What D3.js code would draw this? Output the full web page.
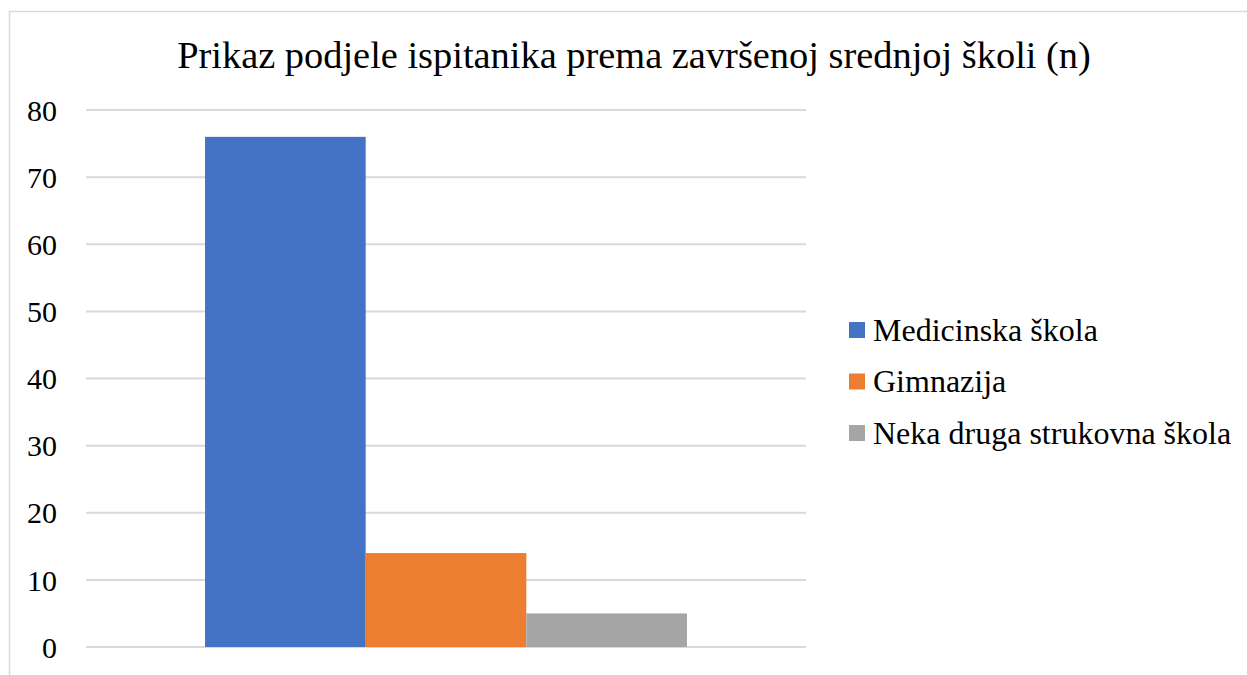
<!DOCTYPE html>
<html>
<head>
<meta charset="utf-8">
<script src="https://cdn.jsdelivr.net/npm/d3@7"></script>
</head>
<body style="margin:0">
<svg id="fig" width="1247" height="675"></svg>
<script>
var categories = [""];
var seriesNames = ["Medicinska škola", "Gimnazija", "Neka druga strukovna škola"];
var seriesValues = [76, 14, 5];
var seriesColors = ["#4472C4", "#ED7D31", "#A5A5A5"];
var yTicks = [0, 10, 20, 30, 40, 50, 60, 70, 80];
var title = "Prikaz podjele ispitanika prema završenoj srednjoj školi (n)";

var serif = "'Liberation Serif'";

var svg = d3.select("#fig");
var margin = {top: 110, left: 86, right: 441, bottom: 28},
    width = 1247 - margin.left - margin.right,
    height = 675 - margin.top - margin.bottom;

// chart frame (runs off the right and bottom of the picture)
svg.append("rect")
    .attr("x", 9.5).attr("y", 11.5)
    .attr("width", 1260).attr("height", 700)
    .attr("fill", "none")
    .attr("stroke", "#d9d9d9")
    .attr("stroke-width", 1.5);

svg.append("text")
    .attr("x", 634).attr("y", 68)
    .attr("text-anchor", "middle")
    .style("font-family", serif)
    .style("font-size", "38.4px")
    .text(title);

var g = svg.append("g")
    .attr("transform", "translate(" + margin.left + "," + margin.top + ")");

var y = d3.scaleLinear().domain([0, 80]).range([height, 0]);
var x0 = d3.scaleBand().domain(categories).range([0, width]).paddingOuter(0.247).paddingInner(0);
var x1 = d3.scaleBand().domain(seriesNames).range([0, x0.bandwidth()]).padding(0);

// gridlines
g.selectAll(".grid")
  .data(yTicks)
  .enter().append("line")
    .attr("class", "grid")
    .attr("x1", 0).attr("x2", width)
    .attr("y1", function(d) { return y(d); })
    .attr("y2", function(d) { return y(d); })
    .attr("stroke", "#d9d9d9")
    .attr("stroke-width", 2);

var yAxis = g.append("g")
    .attr("transform", "translate(-29,0)")
    .call(d3.axisLeft(y).tickValues(yTicks).tickSize(0).tickPadding(0));
yAxis.attr("font-family", null).attr("font-size", null);
yAxis.select(".domain").remove();
yAxis.selectAll("text")
    .style("font-family", serif)
    .style("font-size", "30px")
    .style("fill", "#000")
    .attr("dy", "0.34em");

var groups = g.selectAll(".cat")
  .data(categories)
  .enter().append("g")
    .attr("class", "cat")
    .attr("transform", function(d) { return "translate(" + x0(d) + ",0)"; });

groups.selectAll("rect")
  .data(seriesNames.map(function(s, i) { return {name: s, value: seriesValues[i], color: seriesColors[i]}; }))
  .enter().append("rect")
    .attr("x", function(d) { return x1(d.name); })
    .attr("width", x1.bandwidth())
    .attr("y", function(d) { return y(d.value); })
    .attr("height", function(d) { return y(0) - y(d.value); })
    .attr("fill", function(d) { return d.color; });

// legend
var legend = svg.append("g")
    .attr("transform", "translate(849,330)");
var items = legend.selectAll(".item")
  .data(seriesNames)
  .enter().append("g")
    .attr("class", "item")
    .attr("transform", function(d, i) { return "translate(0," + (i * 51.5) + ")"; });
items.append("rect")
    .attr("x", 0).attr("y", -8)
    .attr("width", 16).attr("height", 16)
    .attr("fill", function(d, i) { return seriesColors[i]; });
items.append("text")
    .attr("x", 24).attr("dy", "0.34em")
    .style("font-family", serif)
    .style("font-size", "32px")
    .text(function(d) { return d; });
</script>
</body>
</html>
